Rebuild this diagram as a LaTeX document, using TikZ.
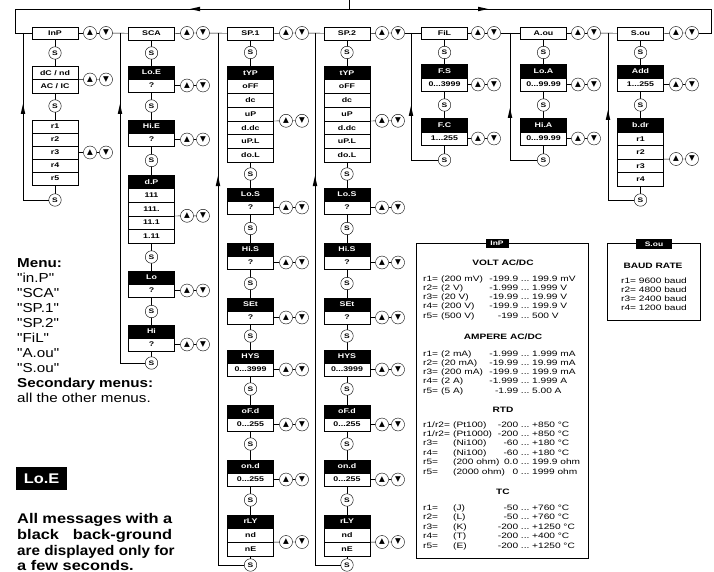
\documentclass[tikz,border=0pt]{standalone}
\usepackage{fontspec}
\usepackage{graphicx}
\setmainfont{Liberation Sans}
\newfontfamily\xf[FakeStretch=1.3]{Liberation Sans}
\newfontfamily\mf[FakeStretch=1.17]{Liberation Sans}
\newfontfamily\symf{DejaVu Sans}
\usetikzlibrary{backgrounds}
\newcommand\lblf{\xf\bfseries\fontsize{6.8}{7}\selectfont}
\newcommand\tabf{\xf\fontsize{7.8}{9}\selectfont}
\newcommand\tabbf{\xf\bfseries\fontsize{7.8}{9}\selectfont}
\tikzset{
 wbox/.style={draw, fill=white, minimum width=46pt, minimum height=13pt, inner sep=0pt, font=\lblf},
 hbox/.style={wbox, fill=black, text=white},
 sbox/.style={circle, draw, fill=white, minimum size=12.5pt, inner sep=0pt, font=\xf\bfseries\fontsize{6.5}{7}\selectfont},
 kbox/.style={circle, draw, fill=white, minimum size=13pt, inner sep=0pt, font=\symf\fontsize{7.5}{7.5}\selectfont},
 mtxt/.style={anchor=base west, inner sep=0pt, font=\mf\fontsize{13}{15}\selectfont},
 mbold/.style={mtxt, font=\mf\bfseries\fontsize{13}{15}\selectfont},
 ptxt/.style={anchor=base west, inner sep=0pt, font=\mf\bfseries\fontsize{14}{16}\selectfont},
 trow/.style={anchor=base west, inner sep=0pt, font=\tabf},
 ttl/.style={inner sep=0pt, font=\tabbf},
 thead/.style={fill=black, text=white, inner sep=0pt, font=\xf\bfseries\fontsize{6.5}{7}\selectfont},
}
% pair of up/down keys
\newcommand\kpair[4]{%
 \node[kbox] (u#1) at (#2,#3) {▲};
 \node[kbox] (d#1) at ({#2+16},#3) {▼};
 \draw (#4) -- (u#1) -- (d#1);}
\newcommand\upar[2]{\fill (#1,#2) -- ++(-2.3,10) -- ++(4.6,0) -- cycle;}
\newcommand\lfar[2]{\fill (#1,#2) -- ++(10,-2.3) -- ++(0,4.6) -- cycle;}
\newcommand\rtar[2]{\fill (#1,#2) -- ++(-10,-2.3) -- ++(0,4.6) -- cycle;}
% SP column
\newcommand\spcol[4]{%
 \node[wbox,minimum height=12.5pt] (#1top) at (#2,33.5) {#4};
 \node[sbox] (#1s1) at (#2,52.5) {S};
 \node[hbox,minimum height=13.7pt] (#1t) at (#2,72.85) {tYP};
 \node[wbox,minimum height=13.7pt] (#1t1) at (#2,86.55) {oFF};
 \node[wbox,minimum height=13.7pt] (#1t2) at (#2,100.25) {dc};
 \node[wbox,minimum height=13.7pt] (#1t3) at (#2,113.95) {uP};
 \node[wbox,minimum height=13.7pt] (#1t4) at (#2,127.65) {d.dc};
 \node[wbox,minimum height=13.7pt] (#1t5) at (#2,141.35) {uP.L};
 \node[wbox,minimum height=13.7pt] (#1t6) at (#2,155.05) {do.L};
 \kpair{#1a}{#3}{120.8}{#1t3.south east}
 \node[sbox] (#1s2) at (#2,174) {S};
 \node[hbox] (#1lo) at (#2,194.5) {Lo.S};
 \node[wbox] (#1lov) at (#2,207.5) {?};
 \kpair{#1b}{#3}{207.5}{#1lov.east}
 \node[sbox] (#1s3) at (#2,228.5) {S};
 \node[hbox] (#1hi) at (#2,249.5) {Hi.S};
 \node[wbox] (#1hiv) at (#2,262.5) {?};
 \kpair{#1c}{#3}{262.5}{#1hiv.east}
 \node[sbox] (#1s4) at (#2,283.5) {S};
 \node[hbox] (#1se) at (#2,304.5) {SEt};
 \node[wbox] (#1sev) at (#2,317.5) {?};
 \kpair{#1d}{#3}{317.5}{#1sev.east}
 \node[sbox] (#1s5) at (#2,336) {S};
 \node[hbox] (#1hy) at (#2,356.5) {HYS};
 \node[wbox] (#1hyv) at (#2,369.5) {0...3999};
 \kpair{#1e}{#3}{369.5}{#1hyv.east}
 \node[sbox] (#1s6) at (#2,389) {S};
 \node[hbox] (#1of) at (#2,411.5) {oF.d};
 \node[wbox] (#1ofv) at (#2,424.5) {0...255};
 \kpair{#1f}{#3}{424.5}{#1ofv.east}
 \node[sbox] (#1s7) at (#2,444) {S};
 \node[hbox] (#1on) at (#2,466.5) {on.d};
 \node[wbox] (#1onv) at (#2,479.5) {0...255};
 \kpair{#1g}{#3}{479.5}{#1onv.east}
 \node[sbox] (#1s8) at (#2,500) {S};
 \node[hbox] (#1rl) at (#2,521.5) {rLY};
 \node[wbox,minimum height=14pt] (#1nd) at (#2,535) {nd};
 \node[wbox,minimum height=14pt] (#1ne) at (#2,549) {nE};
 \kpair{#1h}{#3}{542}{#1nd.south east}
 \node[sbox] (#1s9) at (#2,565) {S};
 \begin{pgfonlayer}{background}\draw (#1top) -- (#1s9);\end{pgfonlayer}}
% two-parameter column
\newcommand\twocol[8]{%
 \node[wbox,minimum height=12.5pt] (#1top) at (#2,33) {#4};
 \node[sbox] (#1s1) at (#2,52.5) {S};
 \node[hbox,minimum height=14pt] (#1h1) at (#2,71) {#5};
 \node[wbox] (#1v1) at (#2,84.5) {#6};
 \kpair{#1a}{#3}{84.5}{#1v1.east}
 \node[sbox] (#1s2) at (#2,105) {S};
 \node[hbox,minimum height=14pt] (#1h2) at (#2,125) {#7};
 \node[wbox] (#1v2) at (#2,138.5) {#8};
 \kpair{#1b}{#3}{138.5}{#1v2.east}
 \node[sbox] (#1s3) at (#2,160) {S};
 \begin{pgfonlayer}{background}\draw (#1top) -- (#1s3);\end{pgfonlayer}}
\newcommand\trow[6]{\node[trow] (#1) at (423,#2) {\makebox[\twa][l]{#3}\makebox[\twb][l]{#4}\makebox[\twc][r]{#5}\makebox[14pt]{...}#6};}

\begin{document}
\begin{tikzpicture}[x=1pt,y=-1pt,line width=0.7pt]
\useasboundingbox (0,0) rectangle (714,572);
\begin{pgfonlayer}{background}\fill[white] (0,0) rectangle (714,572);\end{pgfonlayer}
\clip (0,0) rectangle (714,572);

% ---------- column 1 : InP
\node[wbox,minimum height=12pt] (inp) at (55,33) {InP};
\node[sbox] (s1a) at (55,53) {S};
\node[wbox,minimum height=13.5pt] (dcnd) at (55,72.75) {dC / nd};
\node[wbox,minimum height=13.5pt] (acic) at (55,86.25) {AC / IC};
\kpair{1a}{90}{79.5}{acic.north east}
\node[sbox] (s1b) at (55,106) {S};
\node[wbox] (c1r1) at (55,126.5) {r1};
\node[wbox] (c1r2) at (55,139.5) {r2};
\node[wbox] (c1r3) at (55,152.5) {r3};
\node[wbox] (c1r4) at (55,165.5) {r4};
\node[wbox] (c1r5) at (55,178.5) {r5};
\kpair{1b}{90}{152.5}{c1r3.east}
\node[sbox] (s1c) at (55,200) {S};
\begin{pgfonlayer}{background}\draw (inp) -- (s1c);\end{pgfonlayer}

% ---------- column 2 : SCA
\node[wbox,minimum height=12.5pt] (sca) at (151.5,33.5) {SCA};
\node[sbox] (s2a) at (151.5,53) {S};
\node[hbox] (loe) at (151.5,72.5) {Lo.E};
\node[wbox] (loev) at (151.5,85.5) {?};
\kpair{2a}{187}{85.5}{loev.east}
\node[sbox] (s2b) at (151.5,106) {S};
\node[hbox] (hie) at (151.5,126.5) {Hi.E};
\node[wbox] (hiev) at (151.5,139.5) {?};
\kpair{2b}{187}{139.5}{hiev.east}
\node[sbox] (s2c) at (151.5,160.5) {S};
\node[hbox,minimum height=13.6pt] (dp) at (151.5,181.8) {d.P};
\node[wbox,minimum height=13.6pt] (dp1) at (151.5,195.4) {111};
\node[wbox,minimum height=13.6pt] (dp2) at (151.5,209) {111.};
\node[wbox,minimum height=13.6pt] (dp3) at (151.5,222.6) {11.1};
\node[wbox,minimum height=13.6pt] (dp4) at (151.5,236.2) {1.11};
\kpair{2c}{187}{215.8}{dp2.south east}
\node[sbox] (s2d) at (151.5,257) {S};
\node[hbox] (lo) at (151.5,277.5) {Lo};
\node[wbox] (lov) at (151.5,290.5) {?};
\kpair{2d}{187}{290.5}{lov.east}
\node[sbox] (s2e) at (151.5,311.5) {S};
\node[hbox] (hi) at (151.5,331.5) {Hi};
\node[wbox] (hiv) at (151.5,344.5) {?};
\kpair{2e}{187}{344.5}{hiv.east}
\node[sbox] (s2f) at (151.5,363) {S};
\begin{pgfonlayer}{background}\draw (sca) -- (s2f);\end{pgfonlayer}

% ---------- columns 3,4 : SP.1, SP.2
\spcol{p}{250.5}{286}{SP.1}
\spcol{q}{347}{382}{SP.2}

% ---------- columns 5,6 : FiL, A.ou
\twocol{f}{444.5}{478}{FiL}{F.S}{0...3999}{F.C}{1...255}
\twocol{a}{543.5}{578}{A.ou}{Lo.A}{0...99.99}{Hi.A}{0...99.99}

% ---------- column 7 : S.ou
\node[wbox,minimum height=12.5pt] (sou) at (640.5,33.5) {S.ou};
\node[sbox] (s7a) at (640.5,52.5) {S};
\node[hbox] (add) at (640.5,71.5) {Add};
\node[wbox] (addv) at (640.5,84.5) {1...255};
\kpair{7a}{676}{84.5}{addv.east}
\node[sbox] (s7b) at (640.5,105) {S};
\node[hbox,minimum height=14pt] (bdr) at (640.5,125) {b.dr};
\node[wbox,minimum height=13.5pt] (c7r1) at (640.5,138.75) {r1};
\node[wbox,minimum height=13.5pt] (c7r2) at (640.5,152.25) {r2};
\node[wbox,minimum height=13.5pt] (c7r3) at (640.5,165.75) {r3};
\node[wbox,minimum height=13.5pt] (c7r4) at (640.5,179.25) {r4};
\kpair{7b}{676}{159}{c7r2.south east}
\node[sbox] (s7c) at (640.5,200) {S};
\begin{pgfonlayer}{background}\draw (sou) -- (s7c);\end{pgfonlayer}

% ---------- main row
\kpair{m1}{90}{33}{inp.east}
\kpair{m2}{187}{33}{sca.east}
\kpair{m3}{286}{33}{ptop.east}
\kpair{m4}{382}{33}{qtop.east}
\kpair{m5}{478}{33}{ftop.east}
\kpair{m6}{578}{33}{atop.east}
\kpair{m7}{676}{33}{sou.east}
\draw (dm1) -- (sca);
\draw (dm2) -- (ptop);
\draw (dm3) -- (qtop);
\draw (dm4) -- (ftop);
\draw (dm5) -- (atop);
\draw (dm6) -- (sou);
\coordinate (rr) at (711,33);
\coordinate (tr) at (711,9);
\coordinate (tl) at (15,9);
\coordinate (rl) at (15,33);
\coordinate (tin) at (349,0);
\coordinate (tj) at (349,9);
\draw (dm7) -- (rr) -- (tr) -- (tl) -- (rl) -- (inp);
\draw (tin) -- (tj);
\lfar{190}{9}
\rtar{488}{9}

% ---------- return lines
\coordinate (j1) at (23,33);  \draw (j1) |- (s1c); \upar{23}{104}
\coordinate (j2) at (120,33); \draw (j2) |- (s2f); \upar{120}{104}
\coordinate (j3) at (218,33); \draw (j3) |- (ps9); \upar{218}{176}
\coordinate (j4) at (315,33); \draw (j4) |- (qs9); \upar{315}{176}
\coordinate (j5) at (411,33); \draw (j5) |- (fs3); \upar{411}{106}
\coordinate (j6) at (510,33); \draw (j6) |- (as3); \upar{510}{108}
\coordinate (j7) at (608,33); \draw (j7) |- (s7c); \upar{608}{110}

% ---------- menu text
\node[mbold] (mt0) at (17,267) {Menu:};
\node[mtxt] (mt1) at (17,282.1) {"in.P"};
\node[mtxt] (mt2) at (17,297.2) {"SCA"};
\node[mtxt] (mt3) at (17,312.3) {"SP.1"};
\node[mtxt] (mt4) at (17,327.4) {"SP.2"};
\node[mtxt] (mt5) at (17,342.5) {"FiL"};
\node[mtxt] (mt6) at (17,357.6) {"A.ou"};
\node[mtxt] (mt7) at (17,372.7) {"S.ou"};
\node[mbold] (mt8) at (17,387.8) {Secondary menus:};
\node[mtxt] (mt9) at (17,402.9) {all the other menus.};

\node[fill=black, text=white, minimum width=51pt, minimum height=23pt, inner sep=0pt,
      font=\mf\bfseries\fontsize{14}{14}\selectfont] (loebig) at (41.5,478.5) {Lo.E};
\node[ptxt] (pa) at (17,523) {\makebox[155pt][s]{All messages with a}};
\node[ptxt] (pb) at (17,539) {\makebox[155pt][s]{black back-ground}};
\node[ptxt] (pc) at (17,555) {\scalebox{0.93}[1]{are displayed only for}};
\node[ptxt] (pd) at (17,570.5) {a few seconds.};

% ---------- InP table
\node[draw, minimum width=172pt, minimum height=315pt, inner sep=0pt] (ptab) at (502,400.5) {};
\node[thead, minimum width=23pt, minimum height=9.5pt] (ptabh) at (497,243.5) {InP};
\node[ttl] (tv) at (503,263) {VOLT AC/DC};
\def\twa{18pt}\def\twb{46pt}\def\twc{31pt}
\trow{v1}{281}{r1=}{(200 mV)}{-199.9}{199.9 mV}
\trow{v2}{290.3}{r2=}{(2 V)}{-1.999}{1.999 V}
\trow{v3}{299.6}{r3=}{(20 V)}{-19.99}{19.99 V}
\trow{v4}{308.9}{r4=}{(200 V)}{-199.9}{199.9 V}
\trow{v5}{318.2}{r5=}{(500 V)}{-199}{500 V}
\node[ttl] (ta) at (503,337) {AMPERE AC/DC};
\trow{a1}{356}{r1=}{(2 mA)}{-1.999}{1.999 mA}
\trow{a2}{365.3}{r2=}{(20 mA)}{-19.99}{19.99 mA}
\trow{a3}{374.6}{r3=}{(200 mA)}{-199.9}{199.9 mA}
\trow{a4}{383.9}{r4=}{(2 A)}{-1.999}{1.999 A}
\trow{a5}{393.2}{r5=}{(5 A)}{-1.99}{5.00 A}
\node[ttl] (tr1) at (503,410) {RTD};
\def\twa{30pt}\def\twb{45pt}\def\twc{20pt}
\trow{t1}{427}{r1/r2=}{(Pt100)}{-200}{+850 °C}
\trow{t2}{436.4}{r1/r2=}{(Pt1000)}{-200}{+850 °C}
\trow{t3}{445.8}{r3=}{(Ni100)}{-60}{+180 °C}
\trow{t4}{455.2}{r4=}{(Ni100)}{-60}{+180 °C}
\trow{t5}{464.6}{r5=}{(200 ohm)}{0.0}{199.9 ohm}
\trow{t6}{474}{r5=}{(2000 ohm)}{0}{1999 ohm}
\node[ttl] (ttc) at (503,492) {TC};
\trow{c1}{510}{r1=}{(J)}{-50}{+760 °C}
\trow{c2}{519.5}{r2=}{(L)}{-50}{+760 °C}
\trow{c3}{529}{r3=}{(K)}{-200}{+1250 °C}
\trow{c4}{538.5}{r4=}{(T)}{-200}{+400 °C}
\trow{c5}{548}{r5=}{(E)}{-200}{+1250 °C}

% ---------- S.ou table
\node[draw, minimum width=93pt, minimum height=77pt, inner sep=0pt] (stab) at (653.5,281.5) {};
\node[thead, minimum width=36pt, minimum height=10pt] (stabh) at (654,244) {S.ou};
\node[ttl] (tb) at (653,266) {BAUD RATE};
\node[trow] (b1) at (621,283) {r1= 9600 baud};
\node[trow] (b2) at (621,292) {r2= 4800 baud};
\node[trow] (b3) at (621,301) {r3= 2400 baud};
\node[trow] (b4) at (621,310) {r4= 1200 baud};
\end{tikzpicture}
\end{document}
